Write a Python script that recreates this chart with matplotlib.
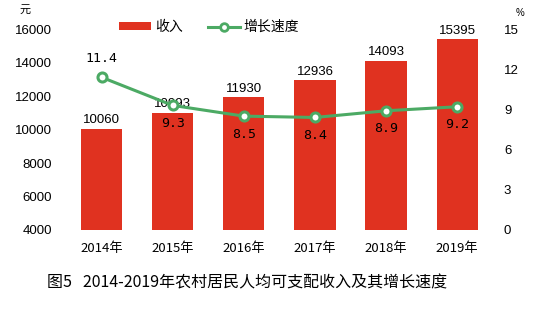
import matplotlib
matplotlib.use('Agg')
import matplotlib.pyplot as plt
from matplotlib.patches import Patch
from matplotlib.lines import Line2D

plt.rcParams['font.family'] = ['Noto Sans CJK SC', 'DejaVu Sans']

years = ['2014年', '2015年', '2016年', '2017年', '2018年', '2019年']
income = [10060, 10993, 11930, 12936, 14093, 15395]
growth = [11.4, 9.3, 8.5, 8.4, 8.9, 9.2]
left_ticks = [4000, 6000, 8000, 10000, 12000, 14000, 16000]
right_ticks = [0, 3, 6, 9, 12, 15]

bar_color = '#e03220'
line_color = '#4caa64'
num_font = ['Liberation Sans', 'DejaVu Sans']

fig = plt.figure(figsize=(5.5, 3.23), dpi=100)
ax = fig.add_axes([0.12, 0.288, 0.776, 0.622])
ax2 = ax.twinx()

x = list(range(len(years)))
ax.bar(x, [v - 4000 for v in income], bottom=4000, width=0.58, color=bar_color, zorder=2)
for xi, v in zip(x, income):
	ax.text(xi, v + 160, str(v), ha='center', va='bottom', fontsize=9.5, family=num_font, zorder=5)

ax.set_ylim(4000, 16000)
ax.set_xlim(-0.5, 5.5)
ax.set_yticks(left_ticks)
ax.set_yticklabels([str(t) for t in left_ticks], family=num_font, fontsize=9.5)
ax.set_xticks(x)
ax.set_xticklabels(years, fontsize=9.5)
ax.tick_params(axis='y', length=0, pad=10)
ax.tick_params(axis='x', length=0, pad=9)

ax2.plot(x, growth, color=line_color, lw=2.2, marker='o', ms=6.5, mfc='white',
	mec=line_color, mew=2.2, zorder=4)
for i, (xi, g) in enumerate(zip(x, growth)):
	if i == 0:
		ax2.text(xi, g + 0.9, str(g), ha='center', va='bottom', fontsize=9.5, family='DejaVu Sans Mono')
	else:
		ax2.text(xi, g - 0.85, str(g), ha='center', va='top', fontsize=9.5, family='DejaVu Sans Mono')
ax2.set_ylim(0, 15)
ax2.set_yticks(right_ticks)
ax2.set_yticklabels([str(t) for t in right_ticks], family=num_font, fontsize=9.5)
ax2.tick_params(axis='y', length=0, pad=8)

for a in (ax, ax2):
	for s in a.spines.values():
		s.set_visible(False)

ax.text(-0.096, 1.095, '元', transform=ax.transAxes, fontsize=8, ha='center', va='center')
ax2.text(1.063, 1.08, '%', transform=ax2.transAxes, fontsize=7, ha='center', va='center', family=num_font)

handles = [Patch(facecolor=bar_color, edgecolor='none'),
	Line2D([0], [0], color=line_color, lw=2.2, marker='o', ms=5.5, mfc='white', mec=line_color, mew=2)]
ax.legend(handles, ['收入', '增长速度'], loc='center', bbox_to_anchor=(0.335, 1.01), ncol=2,
	frameon=False, fontsize=10, handlelength=2.3, handleheight=0.55, columnspacing=1.8, handletextpad=0.3)

fig.text(0.45, 0.123, '图5   2014-2019年农村居民人均可支配收入及其增长速度', ha='center', va='center',
	fontsize=11.5, fontweight='medium')

fig.savefig('out.png', dpi=100)
